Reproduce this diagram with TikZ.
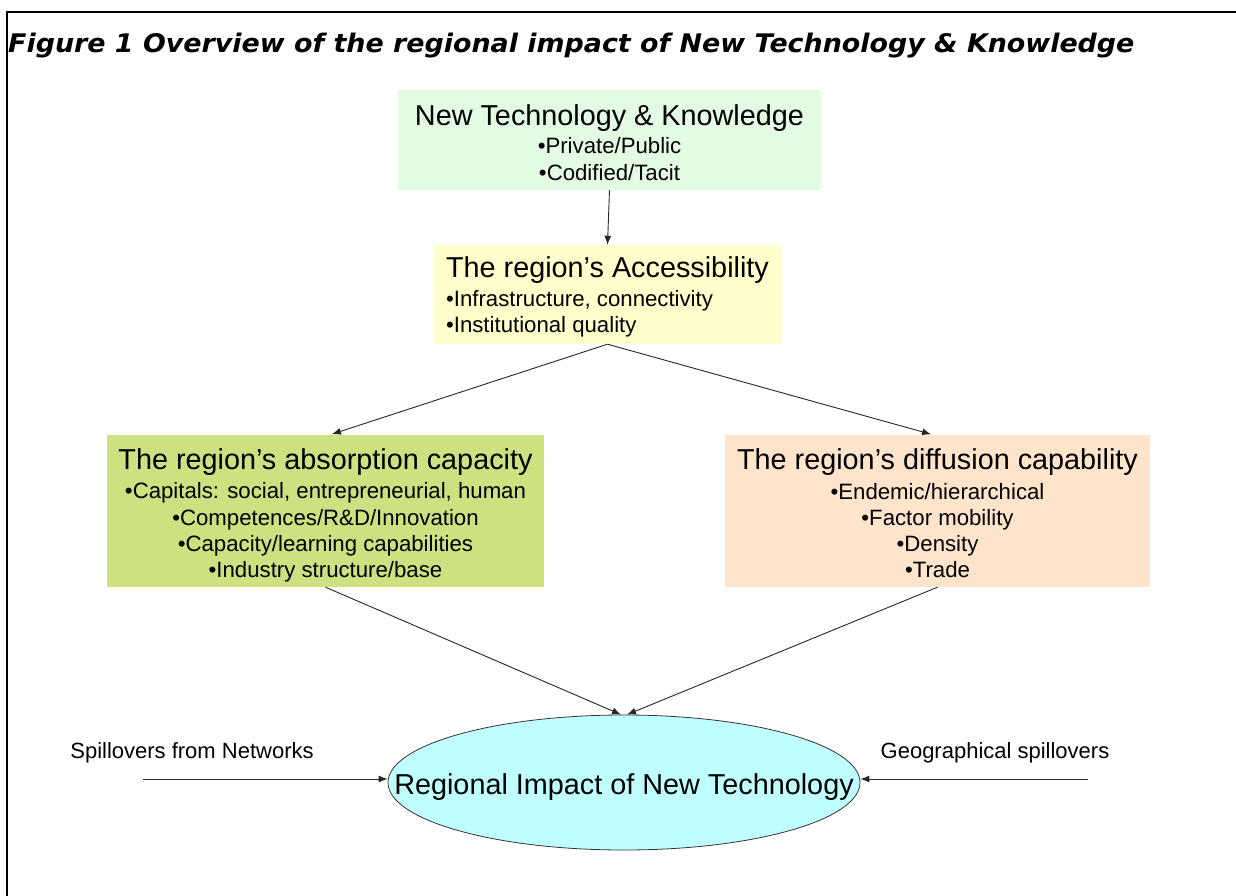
\documentclass[tikz,border=0pt]{standalone}
\usepackage{fontspec}
\setmainfont{Liberation Sans}
\newfontfamily\titlefont[FakeStretch=1.05]{DejaVu Sans}
\usetikzlibrary{arrows.meta,shapes.geometric}
\definecolor{cTop}{HTML}{E3FBE3}
\definecolor{cAcc}{HTML}{FFFFCC}
\definecolor{cAbs}{HTML}{CCE180}
\definecolor{cDif}{HTML}{FFE4CC}
\definecolor{cImp}{HTML}{C0FFFF}
\begin{document}
\begin{tikzpicture}[x=1pt,y=-1pt,
  box/.style={draw=none, inner sep=0pt},
  btext/.style={inner sep=0pt, align=center, font=\fontsize{22.2}{26.3}\selectfont},
  hd/.style={font=\fontsize{28.8}{30}\selectfont},
  lbl/.style={inner sep=0pt, font=\fontsize{22}{26}\selectfont},
  arr/.style={-{Latex[length=9pt,width=7pt]}, line width=0.9pt, draw=black!85},
  frame/.style={line width=2.5pt, draw=black}]
\useasboundingbox (0,0) rectangle (1236,896);
\draw[frame] (7,896) -- (7,12) -- (1236,12);

\node[anchor=west, inner sep=0pt, font=\titlefont\bfseries\itshape\fontsize{25.6}{28}\selectfont] (title) at (8,46)
  {Figure 1 Overview of the regional impact of New Technology \& Knowledge};

\node[box, fill=cTop, minimum width=423pt, minimum height=100pt] (top) at (609.5,140) {};
\node[btext] (toptext) at ([yshift=-2.5pt]top.center)
  {{\fontsize{28.8}{30}\selectfont New Technology \& Knowledge}\\[2pt]
   •Private/Public\\
   •Codified/Tacit};

\node[box, fill=cAcc, minimum width=347pt, minimum height=99pt] (acc) at (607.5,294.5) {};
\node[btext, align=left] (acctext) at ([yshift=-2.5pt]acc.center)
  {{\fontsize{28.8}{30}\selectfont The region’s Accessibility}\\[2.4pt]
   •Infrastructure, connectivity\\
   •Institutional quality};

\node[box, fill=cAbs, minimum width=437pt, minimum height=152pt] (abs) at (325.5,511) {};
\node[btext] (abstext) at ([yshift=-4.5pt]abs.center)
  {{\fontsize{28.8}{30}\selectfont The region’s absorption capacity}\\[3pt]
   •Capitals: social, entrepreneurial, human\\
   •Competences/R\&D/Innovation\\
   •Capacity/learning capabilities\\
   •Industry structure/base};

\node[box, fill=cDif, minimum width=425pt, minimum height=152pt] (dif) at (937.5,511) {};
\node[btext] (diftext) at ([yshift=-2.5pt]dif.center)
  {{\fontsize{28.8}{30}\selectfont The region’s diffusion capability}\\[3pt]
   •Endemic/hierarchical\\
   •Factor mobility\\
   •Density\\
   •Trade};

\node[ellipse, draw=black!80, line width=0.8pt, fill=cImp, minimum width=472pt, minimum height=135pt, inner sep=0pt] (imp) at (624,782.5) {};
\node[hd, inner sep=0pt] (imptext) at (624,787.5) {Regional Impact of New Technology};

\node[lbl] (lsp) at (192,752.5) {Spillovers from Networks};
\node[lbl] (rsp) at (995,752.5) {Geographical spillovers};

\coordinate (sl) at (143,779);
\coordinate (sr) at (1088,779);

\draw[arr] (top.south) -- (acc.north);
\draw[arr, shorten >=2pt] (acc.south) -- ([xshift=4.5pt]abs.north);
\draw[arr, shorten >=2pt] (acc.south) -- ([xshift=-4.5pt]dif.north);
\draw[arr] (abs.south) -- ([xshift=-3pt]imp.north);
\draw[arr] (dif.south) -- ([xshift=3pt]imp.north);
\draw[arr] (sl) -- (sl -| imp.west);
\draw[arr] (sr) -- (sr -| imp.east);
\end{tikzpicture}
\end{document}
